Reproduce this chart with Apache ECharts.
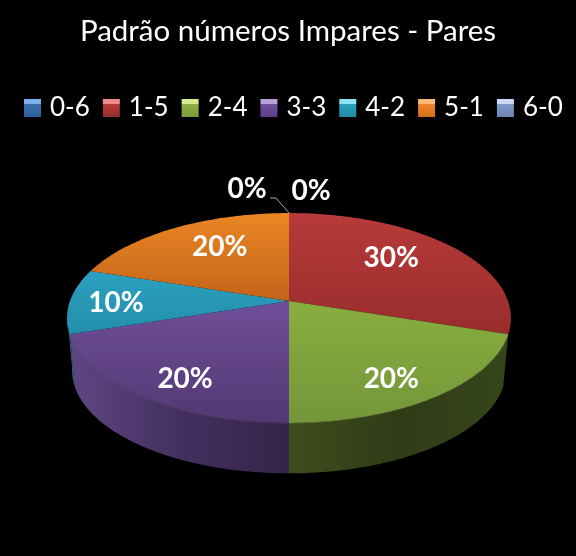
<!DOCTYPE html>
<html><head><meta charset="utf-8">
<style>html,body{margin:0;padding:0;background:#000}#c{width:576px;height:556px}</style>
<script src="https://cdn.jsdelivr.net/npm/echarts@6/dist/echarts.min.js"></script>
</head><body><div id="c"></div>
<script>
const chartTitle = 'Padrão números Impares - Pares';
const categories = ['0-6','1-5','2-4','3-3','4-2','5-1','6-0'];
const seriesValues = [0,3,2,2,1,2,0];

const total = seriesValues.reduce((a,b)=>a+b,0);
const legendColors = [
  ['#7ab0ee','#3a6fae','#2f5f99'],['#ee8a88','#b83a38','#94302e'],['#d5ec8e','#8eb044','#7a9a38'],
  ['#b7a0dc','#6f4f9c','#5c3f86'],['#8ae4f4','#2ba0bd','#228ba6'],['#ffb878','#ee8428','#d06f1c'],['#c8daf4','#7f9ac6','#6b86b2']
];
const topColors = [
  ['#4f81bd','#376092'],['#b83a3a','#982d2c'],['#88ae3e','#74963a'],
  ['#6f4f98','#533874'],['#2ca1bf','#228eab'],['#ea8624','#c4641a'],['#95b3d7','#7a96bb']
];
const sideStops = [
  ['#2a4a70','#2a4a70','#2a4a70'],['#6e2020','#6e2020','#6e2020'],['#3f4d1d','#303c16','#36451a'],
  ['#5f4682','#443060','#35244a'],['#2c6f8e','#2c6f8e','#2c6f8e'],['#8a4a12','#8a4a12','#8a4a12'],['#5a6f8a','#5a6f8a','#5a6f8a']
];
// Perspective disk layout
const CX=289, K=0.162;
const TOP={c:301,rx:219,ry:102.2};
const LOW={c:354,rx:214,ry:100};
const SIDE_FROM=108, SIDE_TO=262;
function project(deg,f,d){
  const t=deg*Math.PI/180, s=Math.sin(t)*f, c=Math.cos(t)*f, w=1+K*c;
  return [CX+d.rx*s/w, d.c-d.ry*c/w];
}
function arc(a,b,d){
  const n=Math.max(2,Math.ceil(Math.abs(b-a))),p=[];
  for(let i=0;i<=n;i++)p.push(project(a+(b-a)*i/n,1,d));
  return p;
}
// label placement per category: x/y factors along the mid-angle, or an outside anchor
const labelFx=[0,.61,.72,.73,.79,.58,0], labelFy=[0,.80,.82,.82,0,.75,0];
const outside={0:[247,187],6:[311,189]};

function renderSlice(idx){
  return function(params,api){
    const v=api.value(0);
    let before=0; for(let i=0;i<idx;i++)before+=seriesValues[i];
    const a=before/total*360,b=(before+v)/total*360;
    const children=[];
    if(v>0){
      const sa=Math.max(a,SIDE_FROM),sb=Math.min(b,SIDE_TO);
      if(sb>sa){
        const pts=arc(sa,sb,TOP).concat(arc(sb,sa,LOW));
        children.push({type:'polygon',shape:{points:pts},style:{
          fill:new echarts.graphic.LinearGradient(0,0,1,0,[
            {offset:0,color:sideStops[idx][0]},
            {offset:.5,color:sideStops[idx][1]},
            {offset:1,color:sideStops[idx][2]}])}});
        children.push({type:'polyline',shape:{points:arc(sa,sb,TOP)},style:{fill:null,stroke:'rgba(255,255,255,0.13)',lineWidth:1}});
      }
      const pts=[[CX,TOP.c]].concat(arc(a,b,TOP));
      children.push({type:'polygon',shape:{points:pts},style:{
        fill:new echarts.graphic.LinearGradient(0,0,0,1,[
          {offset:0,color:topColors[idx][0]},{offset:1,color:topColors[idx][1]}])}});
    }
    let lp;
    if(outside[idx]) lp=outside[idx];
    else{
      const m=(a+b)/2,px=project(m,labelFx[idx],TOP),py=project(m,labelFy[idx]||labelFx[idx],TOP);
      lp=[px[0],py[1]];
    }
    children.push({type:'text',z2:10,style:{x:lp[0],y:lp[1]+2,text:Math.round(v/total*100)+'%',
      fill:'#fff',font:'bold 28px Lato',align:'center',verticalAlign:'middle'}});
    return {type:'group',children};
  };
}
const chart=echarts.init(document.getElementById('c'),null,{renderer:'canvas'});
const legendData=categories.map((name,i)=>({name,icon:'rect',itemStyle:{
  color:new echarts.graphic.LinearGradient(0,0,0,1,[
    {offset:0,color:legendColors[i][0]},{offset:.25,color:legendColors[i][0]},
    {offset:.3,color:legendColors[i][1]},{offset:1,color:legendColors[i][2]}])}}));
const series=categories.map((name,i)=>({
  type:'custom',name,coordinateSystem:'none',silent:true,
  data:[[seriesValues[i]]],renderItem:renderSlice(i),
  itemStyle:{color:topColors[i][0]},
  z:(i===0||i===6)?5:2
}));
// leader line for the two empty slices
series.push({type:'custom',coordinateSystem:'none',silent:true,data:[[0]],z:6,
  renderItem:()=>({type:'polyline',shape:{points:[[270,198],[276,198],[289,213]]},
    style:{fill:null,stroke:'#a6a6a6',lineWidth:1}})});
chart.setOption({
  backgroundColor:'#000',animation:false,
  title:{text:chartTitle,left:'center',top:11,itemGap:0,
    textStyle:{color:'#fff',fontFamily:'Lato',fontWeight:'normal',fontSize:29.5}},
  legend:{data:legendData,left:24,top:95,padding:0,orient:'horizontal',itemWidth:17,itemHeight:18,itemGap:13,
    selectedMode:false,
    textStyle:{color:'#fff',fontFamily:'Lato',fontSize:26,padding:[0,0,0,4]}},
  series
});
</script></body></html>
